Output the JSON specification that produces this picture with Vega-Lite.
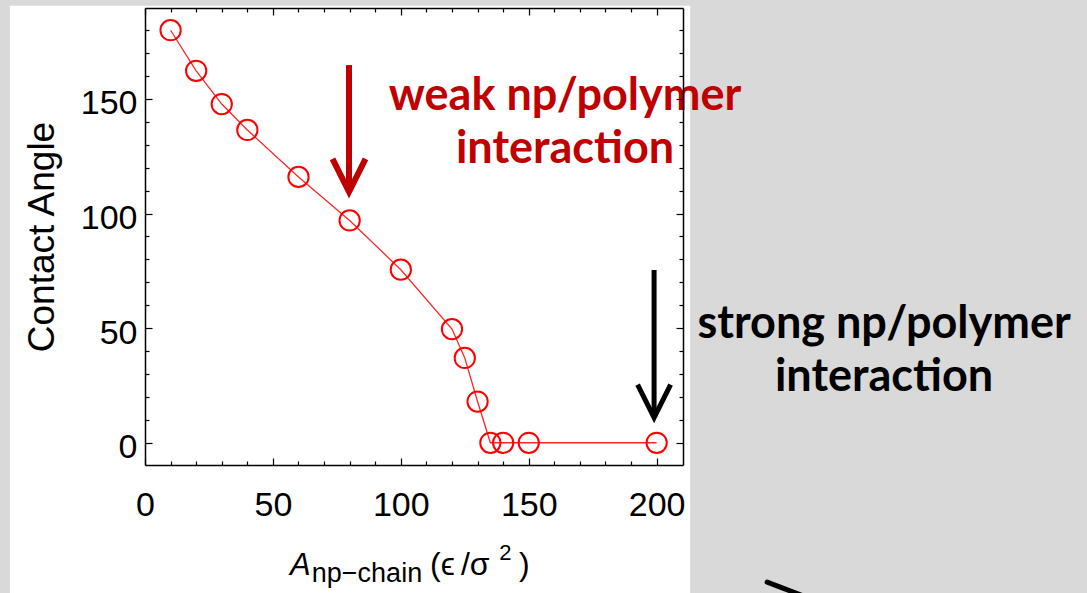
{
  "$schema": "https://vega.github.io/schema/vega-lite/v6.json",
  "autosize": {"type": "none"},
  "padding": {"left": 145, "top": 8, "right": 404, "bottom": 128},
  "width": 538,
  "height": 457,
  "background": "#d9d9d9",
  "config": {
    "view": {"stroke": null},
    "axis": {
      "grid": false,
      "domainColor": "#000000",
      "domainWidth": 1.5,
      "tickColor": "#000000",
      "tickWidth": 1.2,
      "labelFont": "Liberation Sans",
      "labelFontSize": 34,
      "labelColor": "#000000",
      "labelFlush": false,
      "labelOverlap": false
    }
  },
  "resolve": {"axis": {"x": "independent", "y": "independent"}},
  "datasets": {
    "contact": [
      {"A": 10, "angle": 180},
      {"A": 20, "angle": 162.3},
      {"A": 30, "angle": 147.8},
      {"A": 40, "angle": 136.5},
      {"A": 60, "angle": 116},
      {"A": 80, "angle": 97},
      {"A": 100, "angle": 75.5},
      {"A": 120, "angle": 49.6},
      {"A": 125, "angle": 37},
      {"A": 130, "angle": 18},
      {"A": 135, "angle": 0},
      {"A": 140, "angle": 0},
      {"A": 150, "angle": 0},
      {"A": 200, "angle": 0}
    ]
  },
  "layer": [
    {
      "data": {"values": [{}]},
      "mark": {"type": "rect", "fill": "#ffffff", "clip": false},
      "encoding": {
        "x": {"datum": -52.8, "type": "quantitative", "scale": {"domain": [0, 210.3], "nice": false, "zero": false},
          "axis": {"orient": "bottom", "zindex": 1, "values": [0, 50, 100, 150, 200], "tickSize": -7, "labelPadding": 30, "title": null, "domain": true}},
        "x2": {"datum": 213.1},
        "y": {"datum": 190.7, "type": "quantitative", "scale": {"domain": [-9.7, 189.7], "nice": false, "zero": false},
          "axis": {"orient": "left", "zindex": 1, "values": [0, 50, 100, 150], "tickSize": -7, "labelPadding": 15, "labelOffset": 5, "domain": true,
            "title": "Contact Angle", "titleFont": "Liberation Sans", "titleFontSize": 37, "titleFontWeight": "normal", "titleColor": "#000000",
            "titleAngle": -90, "titleX": -92, "titleY": 228.5, "titleAlign": "center", "titleBaseline": "alphabetic"}},
        "y2": {"datum": -70}
      }
    },
    {
      "data": {"name": "contact"},
      "mark": {"type": "line", "color": "#ff0000", "strokeWidth": 1.3, "opacity": 0.85},
      "encoding": {
        "x": {"field": "A", "type": "quantitative", "scale": {"domain": [0, 210.3], "nice": false, "zero": false},
          "axis": {"orient": "bottom", "zindex": 1, "values": [10, 20, 30, 40, 60, 70, 80, 90, 110, 120, 130, 140, 160, 170, 180, 190], "tickSize": -4, "labels": false, "title": null, "domain": false}},
        "y": {"field": "angle", "type": "quantitative", "scale": {"domain": [-9.7, 189.7], "nice": false, "zero": false},
          "axis": {"orient": "left", "zindex": 1, "values": [10, 20, 30, 40, 60, 70, 80, 90, 110, 120, 130, 140, 160, 170, 180], "tickSize": -4, "labels": false, "title": null, "domain": false}}
      }
    },
    {
      "data": {"name": "contact"},
      "mark": {"type": "point", "shape": "circle", "filled": false, "stroke": "#ff0000", "strokeWidth": 2, "size": 410, "opacity": 1},
      "encoding": {
        "x": {"field": "A", "type": "quantitative", "scale": {"domain": [0, 210.3], "nice": false, "zero": false},
          "axis": {"orient": "top", "zindex": 1, "values": [0, 50, 100, 150, 200], "tickSize": -7, "labels": false, "title": null, "domain": true}},
        "y": {"field": "angle", "type": "quantitative", "scale": {"domain": [-9.7, 189.7], "nice": false, "zero": false},
          "axis": {"orient": "right", "zindex": 1, "values": [0, 50, 100, 150], "tickSize": -7, "labels": false, "title": null, "domain": true}}
      }
    },
    {
      "data": {"values": [{}]},
      "mark": {"type": "rule", "color": "#c00000", "strokeWidth": 6, "strokeCap": "butt"},
      "encoding": {
        "x": {"datum": 79.75, "type": "quantitative", "scale": {"domain": [0, 210.3], "nice": false, "zero": false},
          "axis": {"orient": "top", "zindex": 1, "values": [10, 20, 30, 40, 60, 70, 80, 90, 110, 120, 130, 140, 160, 170, 180, 190], "tickSize": -4, "labels": false, "title": null, "domain": false}},
        "y": {"datum": 164.8, "type": "quantitative", "scale": {"domain": [-9.7, 189.7], "nice": false, "zero": false},
          "axis": {"orient": "right", "zindex": 1, "values": [10, 20, 30, 40, 60, 70, 80, 90, 110, 120, 130, 140, 160, 170, 180], "tickSize": -4, "labels": false, "title": null, "domain": false}},
        "y2": {"datum": 111}
      }
    },
    {
      "data": {"values": [{}]},
      "mark": {"type": "point", "shape": "M-1,-2L0,0L1,-2", "filled": false, "stroke": "#c00000", "strokeWidth": 6, "strokeJoin": "miter", "strokeCap": "butt", "size": 1089, "opacity": 1},
      "encoding": {
        "x": {"datum": 79.75, "type": "quantitative", "scale": {"domain": [0, 210.3], "nice": false, "zero": false}, "axis": null},
        "y": {"datum": 109.5, "type": "quantitative", "scale": {"domain": [-9.7, 189.7], "nice": false, "zero": false}, "axis": null}
      }
    },
    {
      "data": {"values": [{}]},
      "mark": {"type": "rule", "color": "#000000", "strokeWidth": 5, "strokeCap": "butt"},
      "encoding": {
        "x": {"datum": 199, "type": "quantitative", "scale": {"domain": [0, 210.3], "nice": false, "zero": false}, "axis": null},
        "y": {"datum": 75.4, "type": "quantitative", "scale": {"domain": [-9.7, 189.7], "nice": false, "zero": false}, "axis": null},
        "y2": {"datum": 11.5}
      }
    },
    {
      "data": {"values": [{}]},
      "mark": {"type": "point", "shape": "M-1,-2L0,0L1,-2", "filled": false, "stroke": "#000000", "strokeWidth": 5, "strokeJoin": "miter", "strokeCap": "butt", "size": 1089, "opacity": 1},
      "encoding": {
        "x": {"datum": 199, "type": "quantitative", "scale": {"domain": [0, 210.3], "nice": false, "zero": false}, "axis": null},
        "y": {"datum": 11.0, "type": "quantitative", "scale": {"domain": [-9.7, 189.7], "nice": false, "zero": false}, "axis": null}
      }
    },
    {
      "data": {"values": [{}]},
      "mark": {"type": "text", "text": ["weak np/polymer", "interaction"], "font": "Lato", "fontWeight": "bold", "fontSize": 45, "color": "#c00000", "align": "center", "baseline": "alphabetic", "lineHeight": 53},
      "encoding": {
        "x": {"datum": 164.2, "type": "quantitative", "scale": {"domain": [0, 210.3], "nice": false, "zero": false}, "axis": null},
        "y": {"datum": 145.2, "type": "quantitative", "scale": {"domain": [-9.7, 189.7], "nice": false, "zero": false}, "axis": null}
      }
    },
    {
      "data": {"values": [{}]},
      "mark": {"type": "text", "text": ["strong np/polymer", "interaction"], "font": "Lato", "fontWeight": "bold", "fontSize": 45, "color": "#000000", "align": "center", "baseline": "alphabetic", "lineHeight": 53},
      "encoding": {
        "x": {"datum": 288.9, "type": "quantitative", "scale": {"domain": [0, 210.3], "nice": false, "zero": false}, "axis": null},
        "y": {"datum": 45.7, "type": "quantitative", "scale": {"domain": [-9.7, 189.7], "nice": false, "zero": false}, "axis": null}
      }
    },
    {
      "data": {"values": [{}]},
      "mark": {"type": "text", "text": "A", "font": "Liberation Sans", "fontStyle": "italic", "fontSize": 31, "color": "#000000", "align": "left", "baseline": "alphabetic"},
      "encoding": {
        "x": {"datum": 56.7, "type": "quantitative", "scale": {"domain": [0, 210.3], "nice": false, "zero": false}, "axis": null},
        "y": {"datum": -57.7, "type": "quantitative", "scale": {"domain": [-9.7, 189.7], "nice": false, "zero": false}, "axis": null}
      }
    },
    {
      "data": {"values": [{}]},
      "mark": {"type": "text", "text": "np−chain", "font": "Liberation Sans", "fontSize": 27, "color": "#000000", "align": "left", "baseline": "alphabetic"},
      "encoding": {
        "x": {"datum": 65.2, "type": "quantitative", "scale": {"domain": [0, 210.3], "nice": false, "zero": false}, "axis": null},
        "y": {"datum": -60.8, "type": "quantitative", "scale": {"domain": [-9.7, 189.7], "nice": false, "zero": false}, "axis": null}
      }
    },
    {
      "data": {"values": [{}]},
      "mark": {"type": "text", "text": "(ϵ", "font": "Liberation Sans", "fontSize": 32, "color": "#000000", "align": "left", "baseline": "alphabetic"},
      "encoding": {
        "x": {"datum": 111.4, "type": "quantitative", "scale": {"domain": [0, 210.3], "nice": false, "zero": false}, "axis": null},
        "y": {"datum": -57.7, "type": "quantitative", "scale": {"domain": [-9.7, 189.7], "nice": false, "zero": false}, "axis": null}
      }
    },
    {
      "data": {"values": [{}]},
      "mark": {"type": "text", "text": "/σ", "font": "Liberation Sans", "fontSize": 32, "color": "#000000", "align": "left", "baseline": "alphabetic"},
      "encoding": {
        "x": {"datum": 123.5, "type": "quantitative", "scale": {"domain": [0, 210.3], "nice": false, "zero": false}, "axis": null},
        "y": {"datum": -57.7, "type": "quantitative", "scale": {"domain": [-9.7, 189.7], "nice": false, "zero": false}, "axis": null}
      }
    },
    {
      "data": {"values": [{}]},
      "mark": {"type": "text", "text": "2", "font": "Liberation Sans", "fontSize": 22, "color": "#000000", "align": "left", "baseline": "alphabetic"},
      "encoding": {
        "x": {"datum": 138.5, "type": "quantitative", "scale": {"domain": [0, 210.3], "nice": false, "zero": false}, "axis": null},
        "y": {"datum": -51.2, "type": "quantitative", "scale": {"domain": [-9.7, 189.7], "nice": false, "zero": false}, "axis": null}
      }
    },
    {
      "data": {"values": [{}]},
      "mark": {"type": "text", "text": ")", "font": "Liberation Sans", "fontSize": 32, "color": "#000000", "align": "left", "baseline": "alphabetic"},
      "encoding": {
        "x": {"datum": 146.2, "type": "quantitative", "scale": {"domain": [0, 210.3], "nice": false, "zero": false}, "axis": null},
        "y": {"datum": -57.7, "type": "quantitative", "scale": {"domain": [-9.7, 189.7], "nice": false, "zero": false}, "axis": null}
      }
    },
    {
      "data": {"values": [{}]},
      "mark": {"type": "rule", "color": "#000000", "strokeWidth": 5, "strokeCap": "round"},
      "encoding": {
        "x": {"datum": 243.2, "type": "quantitative", "scale": {"domain": [0, 210.3], "nice": false, "zero": false}, "axis": null},
        "y": {"datum": -60.8, "type": "quantitative", "scale": {"domain": [-9.7, 189.7], "nice": false, "zero": false}, "axis": null},
        "x2": {"datum": 267.8},
        "y2": {"datum": -71.3}
      }
    }
  ]
}
